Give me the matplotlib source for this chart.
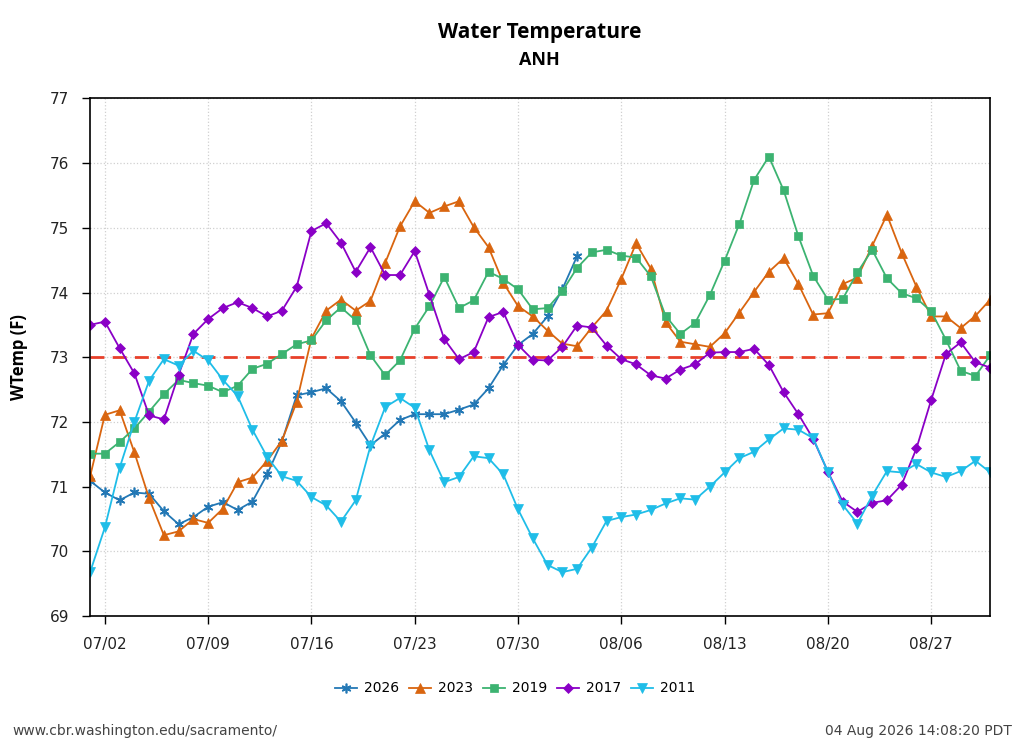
import matplotlib
matplotlib.use("Agg")
import matplotlib.pyplot as plt
import matplotlib.dates as mdates
import numpy as np
import pandas as pd

# daily water temperature at ANH, 07/01 .. 08/31 (deg F)
days = pd.date_range("2026-07-01", "2026-08-31", freq="D")

t2026 = [71.09, 70.91, 70.79, 70.91, 70.89, 70.62, 70.42, 70.53, 70.69, 70.76,
         70.64, 70.77, 71.19, 71.70, 72.41, 72.46, 72.52, 72.32, 71.99, 71.64,
         71.82, 72.03, 72.12, 72.12, 72.12, 72.19, 72.27, 72.52, 72.88, 73.19,
         73.36, 73.63, 74.05, 74.56]

t2023 = [71.16, 72.11, 72.18, 71.53, 70.82, 70.25, 70.31, 70.50, 70.44, 70.66,
         71.07, 71.14, 71.40, 71.71, 72.31, 73.29, 73.72, 73.89, 73.72, 73.87,
         74.46, 75.02, 75.41, 75.23, 75.33, 75.41, 75.01, 74.70, 74.15, 73.79,
         73.63, 73.41, 73.21, 73.17, 73.46, 73.72, 74.21, 74.76, 74.37, 73.54,
         73.24, 73.20, 73.16, 73.37, 73.69, 74.01, 74.32, 74.53, 74.13, 73.66,
         73.68, 74.13, 74.23, 74.72, 75.20, 74.61, 74.09, 73.63, 73.63, 73.45,
         73.64, 73.89]

t2019 = [71.51, 71.51, 71.69, 71.90, 72.16, 72.43, 72.65, 72.60, 72.56, 72.46,
         72.56, 72.82, 72.90, 73.05, 73.20, 73.26, 73.57, 73.77, 73.57, 73.03,
         72.72, 72.95, 73.44, 73.79, 74.24, 73.76, 73.88, 74.32, 74.21, 74.05,
         73.74, 73.76, 74.02, 74.38, 74.62, 74.66, 74.57, 74.54, 74.25, 73.64,
         73.36, 73.53, 73.96, 74.49, 75.06, 75.74, 76.10, 75.58, 74.87, 74.26,
         73.89, 73.90, 74.31, 74.66, 74.22, 73.99, 73.91, 73.71, 73.27, 72.79,
         72.71, 73.03]

t2017 = [73.50, 73.55, 73.14, 72.75, 72.10, 72.04, 72.73, 73.36, 73.59, 73.76,
         73.85, 73.76, 73.63, 73.72, 74.09, 74.95, 75.07, 74.77, 74.32, 74.70,
         74.27, 74.27, 74.64, 73.96, 73.28, 72.97, 73.08, 73.62, 73.70, 73.19,
         72.96, 72.95, 73.16, 73.49, 73.46, 73.18, 72.97, 72.89, 72.72, 72.67,
         72.81, 72.89, 73.07, 73.08, 73.08, 73.13, 72.88, 72.46, 72.12, 71.74,
         71.23, 70.77, 70.61, 70.75, 70.79, 71.03, 71.59, 72.34, 73.05, 73.23,
         72.92, 72.84]

t2011 = [69.68, 70.37, 71.29, 72.00, 72.64, 72.97, 72.87, 73.10, 72.95, 72.65,
         72.40, 71.88, 71.46, 71.16, 71.09, 70.84, 70.71, 70.46, 70.79, 71.63,
         72.23, 72.37, 72.22, 71.56, 71.07, 71.15, 71.47, 71.44, 71.19, 70.65,
         70.20, 69.79, 69.68, 69.73, 70.06, 70.47, 70.53, 70.57, 70.64, 70.74,
         70.82, 70.80, 71.00, 71.22, 71.44, 71.54, 71.73, 71.90, 71.88, 71.75,
         71.23, 70.72, 70.43, 70.86, 71.24, 71.22, 71.35, 71.22, 71.15, 71.24,
         71.40, 71.22]

criterion = 73.0

series = [
    ("2026", t2026, "#2378b5", (6, 2, 0), 7),
    ("2023", t2023, "#d9650f", "^", 6.5),
    ("2019", t2019, "#3cb371", "s", 6),
    ("2017", t2017, "#8a00c6", "D", 5),
    ("2011", t2011, "#1fbde8", "v", 7),
]

fig = plt.figure(figsize=(10.24, 7.45), dpi=100)
ax = fig.add_axes([0.088, 0.173, 0.879, 0.695])

for name, vals, col, mk, ms in series:
    ax.plot(days[:len(vals)], vals, color=col, marker=mk, markersize=ms,
            linewidth=1.3, label=name, markeredgewidth=1.2 if name == "2026" else 0.5)

ax.axhline(criterion, color="#e8402a", linestyle=(0, (5, 3)), linewidth=2, zorder=1)

ax.set_xlim(days[0], days[-1])
ax.set_ylim(69, 77)
ax.set_yticks(np.arange(69, 78, 1))
ax.set_xticks(pd.date_range("2026-07-02", "2026-08-31", freq="7D"))
ax.xaxis.set_major_formatter(mdates.DateFormatter("%m/%d"))
ax.tick_params(axis="both", labelsize=11, direction="out", length=6, width=1,
               labelcolor="#222222")
ax.tick_params(axis="x", pad=9)
ax.tick_params(axis="y", pad=9)
ax.grid(True, linestyle=":", color="#d0d0d0", linewidth=0.9)
ax.set_axisbelow(True)
for s in ax.spines.values():
    s.set_linewidth(1.2)

ax.set_ylabel("WTemp (F)", fontsize=12, fontweight="bold", family="Open Sans", labelpad=16)

fig.text(0.527, 0.957, "Water Temperature", ha="center", va="center",
         fontsize=15, fontweight="bold", family="Open Sans")
fig.text(0.527, 0.919, "ANH", ha="center", va="center", fontsize=13,
         fontweight="bold", family="Open Sans")

fig.legend(loc="center", bbox_to_anchor=(0.503, 0.076), ncol=5, frameon=False,
           fontsize=10, handlelength=1.6, columnspacing=0.7, handletextpad=0.5)

fig.text(0.012, 0.019, "www.cbr.washington.edu/sacramento/", ha="left", va="center",
         fontsize=10, color="#444444")
fig.text(0.988, 0.019, "04 Aug 2026 14:08:20 PDT", ha="right", va="center",
         fontsize=10, color="#444444")

fig.savefig("out.png", dpi=100)
